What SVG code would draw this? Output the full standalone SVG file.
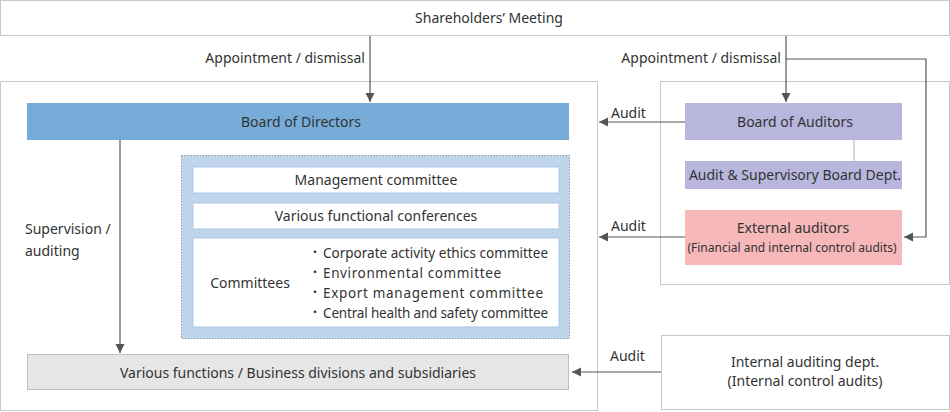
<svg xmlns="http://www.w3.org/2000/svg" width="950" height="412" viewBox="0 0 950 412">
<style>
text{font-family:"Noto Sans","Noto Sans CJK JP",sans-serif;font-size:14px;fill:#333;}
.c{text-anchor:middle;}
.r{text-anchor:end;}
.item{font-size:13.5px;}
.dot{font-family:"Noto Sans CJK JP",sans-serif;font-size:12px;}
.frame{fill:#fff;stroke:#c8c8c8;stroke-width:1;}
.line{fill:none;stroke:#555;stroke-width:1.2;}
.white{fill:#fff;stroke:#a9c6e6;stroke-width:1;}
</style>
<defs>
<marker id="ah" markerWidth="10" markerHeight="10" refX="9" refY="5" orient="auto" markerUnits="userSpaceOnUse">
<path d="M0,0.5 L9,5 L0,9.5 Z" fill="#555"/>
</marker>
</defs>
<rect width="950" height="412" fill="#fff"/>
<g id="shareholders">
<rect class="frame" x="0.5" y="0.5" width="949" height="35"/>
<text class="c" x="489" y="23">Shareholders’ Meeting</text>
</g>
<g id="left-frame"><rect class="frame" x="0.5" y="81.5" width="597" height="329"/></g>
<g id="right-frame"><rect class="frame" x="660.5" y="81.5" width="289" height="203"/></g>
<g id="board-directors">
<rect x="27" y="103" width="542" height="37" fill="#77acd9"/>
<text class="c" x="301" y="127">Board of Directors</text>
</g>
<g id="committee-group">
<rect x="181.5" y="155.5" width="388" height="183" fill="#c0d5ec" stroke="#8a9bb0" stroke-width="1" stroke-dasharray="1.5,1.5"/>
</g>
<g id="management-committee">
<rect class="white" x="193" y="167" width="366" height="26"/>
<text class="c" x="376" y="185">Management committee</text>
</g>
<g id="functional-conferences">
<rect class="white" x="193" y="203" width="366" height="26"/>
<text class="c" x="376" y="221">Various functional conferences</text>
</g>
<g id="committees">
<rect class="white" x="193" y="238" width="366" height="89"/>
<text class="c" x="250" y="288">Committees</text>
<text class="dot" x="309" y="257">・</text>
<text class="dot" x="309" y="277">・</text>
<text class="dot" x="309" y="297">・</text>
<text class="dot" x="309" y="317">・</text>
<text class="item" x="323" y="258" textLength="225">Corporate activity ethics committee</text>
<text class="item" x="323" y="278" textLength="178">Environmental committee</text>
<text class="item" x="323" y="298" textLength="220">Export management committee</text>
<text class="item" x="323" y="318" textLength="225">Central health and safety committee</text>
</g>
<g id="various-functions">
<rect x="27.5" y="354.5" width="541" height="35" fill="#e6e6e6" stroke="#c0c0c0"/>
<text class="c" x="298" y="378">Various functions / Business divisions and subsidiaries</text>
</g>
<g id="board-auditors">
<rect x="685" y="103" width="217" height="37" fill="#b8b6dd"/>
<text class="c" x="795" y="127">Board of Auditors</text>
</g>
<g id="audit-dept">
<rect x="685" y="161" width="217" height="28" fill="#b8b6dd"/>
<text class="c" x="795" y="180">Audit &amp; Supervisory Board Dept.</text>
</g>
<g id="external-auditors">
<rect x="685" y="210" width="217" height="55" fill="#f6b8b9"/>
<text class="c" x="793" y="233">External auditors</text>
<text class="c" x="792" y="252" style="font-size:12px">(Financial and internal control audits)</text>
</g>
<g id="internal-auditing">
<rect class="frame" x="661.5" y="335.5" width="288" height="74"/>
<text class="c" x="805" y="367">Internal auditing dept.</text>
<text class="c" x="805" y="386">(Internal control audits)</text>
</g>
<g id="connectors">
<path class="line" d="M370,36 V102" marker-end="url(#ah)"/>
<path class="line" d="M786,36 V102" marker-end="url(#ah)"/>
<path class="line" d="M786,59 H926 V237 H904" marker-end="url(#ah)"/>
<path d="M854,140 V161" stroke="#c8c8c8" stroke-width="1.5" fill="none"/>
<path class="line" d="M685,122 H599" marker-end="url(#ah)"/>
<path class="line" d="M685,237 H599" marker-end="url(#ah)"/>
<path class="line" d="M661,372 H572" marker-end="url(#ah)"/>
<path class="line" d="M120,140 V353" marker-end="url(#ah)"/>
<text class="r" x="365" y="63">Appointment / dismissal</text>
<text class="r" x="781" y="63">Appointment / dismissal</text>
<text x="611" y="118">Audit</text>
<text x="611" y="231">Audit</text>
<text x="610" y="361">Audit</text>
<text x="25" y="234">Supervision /</text>
<text x="25" y="256">auditing</text>
</g>
</svg>
